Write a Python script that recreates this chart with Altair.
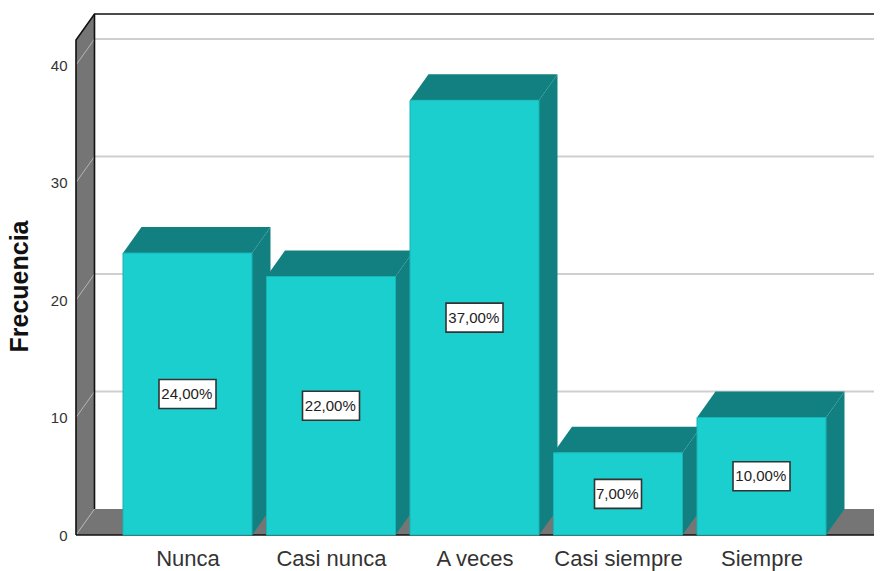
import altair as alt
import pandas as pd

categories = ["Nunca", "Casi nunca", "A veces", "Casi siempre", "Siempre"]
values = [24, 22, 37, 7, 10]
labels = ["24,00%", "22,00%", "37,00%", "7,00%", "10,00%"]
ticks = [0, 10, 20, 30, 40]

PX_X = 143.5      # px per category
PX_Y = 11.75      # px per count
DX = 18.5 / PX_X  # depth of 3-D box along x
DY = 26 / PX_Y    # depth along y
HALF = 64.5 / PX_X
XMIN = (76 - 187.5) / PX_X
XMAX = (874 - 187.5) / PX_X
FLOOR_R = (875 - 187.5) / PX_X
WALL_TOP = 495 / PX_Y
YMAX = 521 / PX_Y

XS = alt.Scale(domain=[XMIN, XMAX], nice=False, zero=False)
YS = alt.Scale(domain=[0, YMAX], nice=False)
XA = alt.Axis(
    values=list(range(5)),
    labelExpr="%s[datum.value]" % str(categories),
    title=None, grid=False, domain=False, ticks=False,
    labelFont="Liberation Sans", labelFontSize=22, labelColor="#333333",
    labelPadding=13, labelOverlap=False, labelFlush=False,
)
YA = alt.Axis(
    values=ticks, title="Frecuencia", grid=False, domain=False, ticks=False,
    labelFont="Liberation Sans", labelFontSize=15, labelColor="#333333", labelPadding=9,
    titleFont="Liberation Sans", titleFontSize=25, titleFontWeight="bold", titleColor="#111111",
    titleX=-44, titleY=272, titleAngle=-90,
)
X = alt.X("x:Q", scale=XS, axis=XA)
Y = alt.Y("y:Q", scale=YS, axis=YA, stack=None)


def area(rows, color):
    df = pd.DataFrame(rows, columns=["g", "i", "x", "y", "y2"])
    return alt.Chart(df).mark_area(color=color, clip=True, orient="vertical").encode(
        x=X, y=Y, y2="y2:Q", detail="g:N"
    )


def lines(segs, color, width, clip=True):
    rows = []
    for g, pts in enumerate(segs):
        for i, (a, b) in enumerate(pts):
            rows.append({"g": g, "i": i, "x": a, "y": b})
    return alt.Chart(pd.DataFrame(rows)).mark_line(color=color, strokeWidth=width, clip=clip).encode(
        x=X, y=Y, detail="g:N", order="i:Q"
    )


WALL = "#757575"
SIDE = "#128080"
FRONT = "#1BCFCF"

wall = area([(0, 0, XMIN, 0, WALL_TOP), (0, 1, XMIN + DX, DY, YMAX)], WALL)
floor = area(
    [
        (0, 0, XMIN, 0, 0),
        (0, 1, XMIN + DX, 0, DY),
        (0, 2, FLOOR_R, 0, DY),
        (0, 3, FLOOR_R + DX, DY, DY),
    ],
    WALL,
)
grid = lines([[(XMIN + DX, t + DY), (XMAX, t + DY)] for t in ticks[1:]], "#CFCFCF", 2)
wall_grid = lines([[(XMIN, t), (XMIN + DX, t + DY)] for t in ticks], "#B5B5B5", 1)
outline = lines(
    [
        [(XMIN, 0), (XMIN, WALL_TOP), (XMIN + DX, YMAX), (XMAX, YMAX)],
        [(XMIN + DX, DY), (XMIN + DX, YMAX)],
        [(XMIN, 0), (XMAX, 0)],
    ],
    "#111111",
    1.6,
    clip=False,
)

side_rows, top_rows, front_rows, box_rows = [], [], [], []
for k, v in enumerate(values):
    xl, xr = k - HALF, k + HALF
    side_rows += [(k, 0, xr, 0, v), (k, 1, xr + DX, DY, v + DY)]
    top_rows += [
        (k, 0, xl, v, v),
        (k, 1, xl + DX, v, v + DY),
        (k, 2, xr, v, v + DY),
        (k, 3, xr + DX, v + DY, v + DY),
    ]
    front_rows.append({"x": xl, "x2": xr, "y": v, "y2": 0})
    hw = (28.5 if len(labels[k]) == 6 else 23.5) / PX_X
    box_rows.append(
        {"x": k - hw, "x2": k + hw, "y": v / 2 - 14.5 / PX_Y, "y2": v / 2 + 14.5 / PX_Y,
         "c": k - 0.005, "m": v / 2, "t": labels[k]}
    )

sides = area(side_rows, SIDE)
tops = area(top_rows, SIDE)
fronts = alt.Chart(pd.DataFrame(front_rows)).mark_rect(color=FRONT, stroke="#17B5B5", strokeWidth=1).encode(
    x=X, x2="x2:Q", y=Y, y2="y2:Q"
)
boxes_df = pd.DataFrame(box_rows)
boxes = alt.Chart(boxes_df).mark_rect(color="#FFFFFF", stroke="#333333", strokeWidth=1.6).encode(
    x=X, x2="x2:Q", y=Y, y2="y2:Q"
)
texts = alt.Chart(boxes_df).mark_text(
    font="Liberation Sans", fontSize=15, color="#222222", baseline="middle", align="center"
).encode(x=alt.X("c:Q", scale=XS, axis=XA), y=alt.Y("m:Q", scale=YS, axis=YA), text="t:N")

chart = (
    alt.layer(wall, floor, grid, wall_grid, outline, sides, tops, fronts, boxes, texts)
    .properties(
        width=798,
        height=521,
        autosize="none",
        padding={"left": 68, "top": 6, "right": 0, "bottom": 36},
        background="white",
    )
    .configure_view(stroke=None)
)

chart.save("out.html", embed_options={"renderer": "svg", "actions": False})
